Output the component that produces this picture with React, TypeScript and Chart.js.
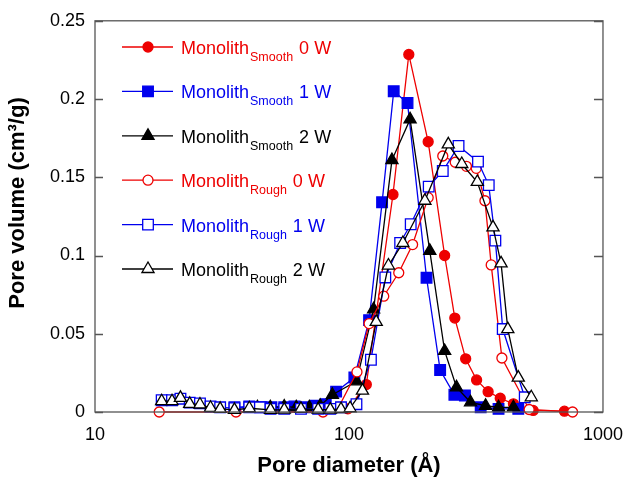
import React, { useEffect, useRef } from "react";
import { Chart, registerables } from "chart.js";

Chart.register(...registerables);

const FONT = '"Liberation Sans", Arial, Helvetica, sans-serif';
const RED = "#ee0000";
const BLUE = "#0000ee";
const BLACK = "#000000";

// Pore diameter (Å) and pore volume (cm3/g) per series
const smooth0wDiameter = [99, 117, 149, 172, 205, 238, 261, 288, 318, 353, 394, 444, 531, 705];
const smooth0wVolume = [0.002, 0.0175, 0.139, 0.2285, 0.1727, 0.1, 0.06, 0.034, 0.0205, 0.013, 0.0088, 0.0052, 0.001, 0.0005];

const smooth1wDiameter = [35.4, 40.5, 45, 49.5, 55.6, 61, 67, 74, 81, 89, 105, 120, 135, 150, 170, 202, 228.5, 260, 286, 330, 388, 464];
const smooth1wVolume = [0.003, 0.0035, 0.003, 0.003, 0.003, 0.0035, 0.003, 0.004, 0.005, 0.013, 0.022, 0.0587, 0.134, 0.205, 0.1975, 0.0858, 0.0268, 0.011, 0.0105, 0.003, 0.002, 0.002];

const smooth2wDiameter = [43.6, 49, 55.6, 62, 69.8, 77, 86, 107, 125, 147.6, 174, 208, 238, 265, 301, 345, 388, 444];
const smooth2wVolume = [0.003, 0.003, 0.0035, 0.003, 0.003, 0.004, 0.011, 0.0196, 0.0656, 0.161, 0.187, 0.103, 0.039, 0.0158, 0.0062, 0.004, 0.003, 0.003];

const rough0wDiameter = [17.9, 35.9, 79, 91, 107.5, 120, 137, 157, 178, 205, 234, 262, 290, 317, 343, 363, 400, 512, 759];
const rough0wVolume = [0, 0, 0, 0.003, 0.0256, 0.0565, 0.074, 0.089, 0.107, 0.137, 0.1636, 0.1596, 0.157, 0.1557, 0.135, 0.094, 0.0345, 0.0016, 0];

const rough1wDiameter = [18.3, 20.1, 21.7, 23.6, 25.9, 28.5, 31.1, 35.4, 40.5, 44.6, 49.1, 55.6, 64.7, 75.6, 84.4, 93, 107, 122, 139, 159, 175, 206, 234, 270, 322, 355, 377, 403, 492];
const rough1wVolume = [0.0075, 0.0075, 0.0085, 0.006, 0.0055, 0.0035, 0.003, 0.0025, 0.003, 0.003, 0.002, 0.002, 0.002, 0.002, 0.002, 0.003, 0.005, 0.0334, 0.086, 0.108, 0.12, 0.144, 0.154, 0.17, 0.16, 0.145, 0.1095, 0.053, 0.0094];

const rough2wDiameter = [18.3, 20.1, 21.7, 23.6, 25.9, 28.5, 31.1, 35.4, 40.5, 49.1, 55.6, 64.7, 75.6, 84.4, 93, 101, 113, 128, 143, 163, 199, 246, 278, 320, 369, 397, 422, 464, 522];
const rough2wVolume = [0.0069, 0.0069, 0.009, 0.0052, 0.0048, 0.0027, 0.002, 0.0014, 0.0024, 0.0014, 0.0015, 0.002, 0.0015, 0.0015, 0.0018, 0.0024, 0.0137, 0.0576, 0.0936, 0.108, 0.135, 0.171, 0.1585, 0.147, 0.118, 0.095, 0.053, 0.022, 0.0094];

const xTickValues = [10, 100, 1000];
const yTickValues = [0, 0.05, 0.1, 0.15, 0.2, 0.25];
const yTitle = "Pore volume (cm³/g)";
const xTitle = "Pore diameter (Å)";

const seriesMain = ["Monolith", "Monolith", "Monolith", "Monolith", "Monolith", "Monolith"];
const seriesSub = ["Smooth", "Smooth", "Smooth", "Rough", "Rough", "Rough"];
const seriesPower = ["0 W", "1 W", "2 W", "0 W", "1 W", "2 W"];
const seriesColor = [RED, BLUE, BLACK, RED, BLUE, BLACK];
const seriesShape = ["circle", "rect", "triangle", "circle", "rect", "triangle"];
const seriesFilled = [true, true, true, false, false, false];

const seriesX = [smooth0wDiameter, smooth1wDiameter, smooth2wDiameter, rough0wDiameter, rough1wDiameter, rough2wDiameter];
const seriesY = [smooth0wVolume, smooth1wVolume, smooth2wVolume, rough0wVolume, rough1wVolume, rough2wVolume];

const radiusFor = (shape: string) => (shape === "circle" ? 5 : shape === "rect" ? 7.5 : 7);

function drawMarker(ctx: CanvasRenderingContext2D, shape: string, r: number, x: number, y: number) {
  ctx.beginPath();
  if (shape === "circle") {
    ctx.arc(x, y, r, 0, Math.PI * 2);
  } else if (shape === "rect") {
    const s = Math.SQRT1_2 * r;
    ctx.rect(x - s, y - s, 2 * s, 2 * s);
  } else {
    const a = -Math.PI / 2;
    ctx.moveTo(x + Math.cos(a) * r, y + Math.sin(a) * r);
    ctx.lineTo(x + Math.cos(a + (2 * Math.PI) / 3) * r, y + Math.sin(a + (2 * Math.PI) / 3) * r);
    ctx.lineTo(x + Math.cos(a + (4 * Math.PI) / 3) * r, y + Math.sin(a + (4 * Math.PI) / 3) * r);
    ctx.closePath();
  }
  ctx.fill();
  ctx.stroke();
}

const framePlugin = {
  id: "frameAndLegend",
  afterDraw(chart: any) {
    const ctx = chart.ctx;
    const { left, right, top, bottom } = chart.chartArea;
    const yScale = chart.scales.y;
    ctx.save();
    ctx.strokeStyle = "#555";
    ctx.lineWidth = 1.3;
    ctx.strokeRect(left, top, right - left, bottom - top);
    ctx.beginPath();
    yTickValues.forEach((v) => {
      const py = Math.round(yScale.getPixelForValue(v)) + 0.5;
      ctx.moveTo(left, py);
      ctx.lineTo(left + 8, py);
      ctx.moveTo(right, py);
      ctx.lineTo(right - 9, py);
    });
    ctx.stroke();
    ctx.restore();

    // y-axis title
    ctx.save();
    ctx.translate(18, 203);
    ctx.rotate(-Math.PI / 2);
    ctx.fillStyle = "#000";
    ctx.font = `bold 22px ${FONT}`;
    ctx.textAlign = "center";
    ctx.textBaseline = "middle";
    ctx.fillText(yTitle, 0, 0);
    ctx.restore();

    // legend
    const rowY0 = 47;
    const rowStep = 44.4;
    ctx.save();
    for (let i = 0; i < 6; i++) {
      const y = rowY0 + i * rowStep;
      const col = seriesColor[i];
      ctx.strokeStyle = col;
      ctx.lineWidth = 1.3;
      ctx.beginPath();
      ctx.moveTo(122, y);
      ctx.lineTo(173, y);
      ctx.stroke();
      const shape = seriesShape[i];
      ctx.fillStyle = seriesFilled[i] ? col : "#ffffff";
      ctx.strokeStyle = col;
      ctx.lineWidth = 1.3;
      drawMarker(ctx, shape, radiusFor(shape), 148, y);
      ctx.fillStyle = col;
      ctx.textBaseline = "alphabetic";
      ctx.textAlign = "left";
      ctx.font = `18px ${FONT}`;
      let x = 181;
      ctx.fillText(seriesMain[i], x, y + 7);
      x += ctx.measureText(seriesMain[i]).width;
      ctx.font = `12.5px ${FONT}`;
      ctx.fillText(seriesSub[i], x + 1, y + 14);
      x += ctx.measureText(seriesSub[i]).width + 2;
      ctx.font = `18px ${FONT}`;
      ctx.fillText(" " + seriesPower[i], x, y + 7);
    }
    ctx.restore();
  },
};

export default function App() {
  const ref = useRef<HTMLCanvasElement | null>(null);
  useEffect(() => {
    document.body.style.margin = "0";
    const canvas = ref.current!;
    const datasets = seriesX.map((xs, i) => ({
      label: `${seriesMain[i]} ${seriesSub[i]} ${seriesPower[i]}`,
      data: xs.map((x, j) => ({ x, y: seriesY[i][j] })),
      borderColor: seriesColor[i],
      backgroundColor: seriesFilled[i] ? seriesColor[i] : "#ffffff",
      pointBackgroundColor: seriesFilled[i] ? seriesColor[i] : "#ffffff",
      pointBorderColor: seriesColor[i],
      pointStyle: seriesShape[i],
      pointRadius: radiusFor(seriesShape[i]),
      pointBorderWidth: 1.3,
      borderWidth: 1.3,
      tension: 0,
      clip: false as any,
      order: 5 - i,
    }));
    const chart = new Chart(canvas, {
      type: "line",
      data: { datasets },
      options: {
        responsive: false,
        animation: false,
        devicePixelRatio: 1,
        layout: { padding: { top: 19, right: 24, left: 0, bottom: 0 } },
        plugins: { legend: { display: false }, tooltip: { enabled: false } },
        scales: {
          x: {
            type: "logarithmic",
            min: 10,
            max: 1000,
            grid: { display: false, drawTicks: false },
            border: { display: false },
            afterBuildTicks: (s: any) => {
              s.ticks = xTickValues.map((v) => ({ value: v }));
            },
            afterFit: (s: any) => {
              s.height = 65;
            },
            ticks: {
              color: "#000",
              font: { family: FONT, size: 18 },
              padding: 12,
              autoSkip: false,
              maxRotation: 0,
              callback: (v: any) => String(v),
            },
            title: {
              display: true,
              text: xTitle,
              color: "#000",
              font: { family: FONT, size: 22, weight: "bold", lineHeight: 1.0 },
              padding: { top: 0, bottom: 0 },
            },
          },
          y: {
            min: 0,
            max: 0.25,
            grid: { display: false, drawTicks: false },
            border: { display: false },
            afterBuildTicks: (s: any) => {
              s.ticks = yTickValues.map((v) => ({ value: v }));
            },
            afterFit: (s: any) => {
              s.width = 95;
            },
            ticks: {
              color: "#000",
              font: { family: FONT, size: 18 },
              padding: 10,
              callback: (v: any) => String(Math.round(Number(v) * 100) / 100),
            },
            title: { display: false },
          },
        },
      },
      plugins: [framePlugin],
    });
    return () => chart.destroy();
  }, []);
  return (
    <div style={{ position: "absolute", left: 0, top: 0, width: 635, height: 477, background: "#fff" }}>
      <canvas ref={ref} width={635} height={477} />
    </div>
  );
}
